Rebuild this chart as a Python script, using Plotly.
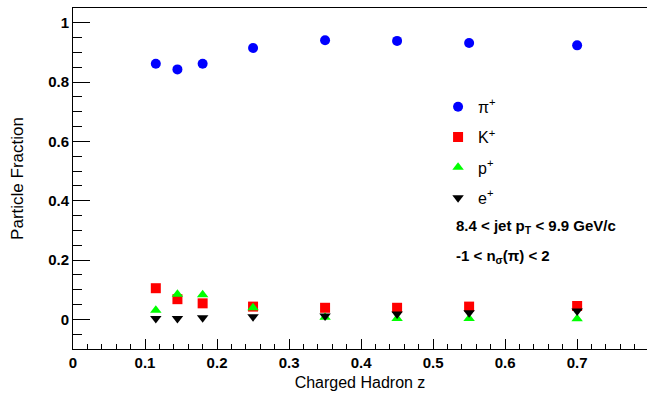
import plotly.graph_objects as go

z = [0.115, 0.145, 0.18, 0.25, 0.35, 0.45, 0.55, 0.70]
pion = [0.862, 0.843, 0.862, 0.915, 0.941, 0.939, 0.932, 0.924]
kaon = [0.105, 0.068, 0.054, 0.043, 0.039, 0.039, 0.043, 0.045]
proton = [0.031, 0.085, 0.083, 0.039, 0.007, 0.003, 0.003, 0.002]
electron = [0.003, 0.003, 0.005, 0.009, 0.011, 0.018, 0.022, 0.028]

series = [
    ("π<sup>+</sup>", pion, "circle", "#0000ff", 10),
    ("K<sup>+</sup>", kaon, "square", "#ff0000", 10),
    ("p<sup>+</sup>", proton, "triangle-up", "#00ff00", 10),
    ("e<sup>+</sup>", electron, "triangle-down", "#000000", 10),
]

FONT = "Liberation Sans, Arial, Helvetica, sans-serif"

fig = go.Figure()
for i, (name, vals, sym, col, sz) in enumerate(series):
    fig.add_trace(go.Scatter(
        x=z, y=vals, mode="markers", name=name, legendgroup=f"g{i}",
        marker=dict(symbol=sym, color=col, size=sz, line=dict(width=0)),
    ))

fig.update_layout(
    width=647, height=394,
    margin=dict(l=73, r=0, t=8, b=45),
    plot_bgcolor="white", paper_bgcolor="white",
    font=dict(family=FONT, color="black"),
    showlegend=True,
    legend=dict(x=0.636, y=0.76, xanchor="left", yanchor="top",
                font=dict(size=16, family=FONT), tracegroupgap=6.5,
                bgcolor="rgba(0,0,0,0)", borderwidth=0),
    xaxis=dict(
        range=[0, 0.797], dtick=0.1, tick0=0,
        showgrid=False, zeroline=False,
        showline=True, linecolor="black", linewidth=1, mirror=True,
        ticks="inside", ticklen=10, tickcolor="black",
        minor=dict(dtick=0.02, ticks="inside", ticklen=5, tickcolor="black", showgrid=False),
        tickfont=dict(size=15, weight="bold", family=FONT),
        title=dict(text="Charged Hadron z", font=dict(size=16, family=FONT), standoff=6),
    ),
    yaxis=dict(
        range=[-0.1, 1.05], dtick=0.2, tick0=0,
        showgrid=False, zeroline=False,
        showline=True, linecolor="black", linewidth=1, mirror=False,
        ticks="inside", ticklen=17, tickcolor="black",
        minor=dict(dtick=0.05, ticks="inside", ticklen=9, tickcolor="black", showgrid=False),
        tickfont=dict(size=15, weight="bold", family=FONT),
        title=dict(text="Particle Fraction", font=dict(size=17, family=FONT), standoff=20),
    ),
    annotations=[
        dict(xref="paper", yref="paper", x=(454 - 73) / 574, y=(349 - 226) / 341,
             xanchor="left", yanchor="middle", showarrow=False,
             text="<b>8.4 &lt; jet p<sub>T</sub> &lt; 9.9 GeV/c</b>",
             font=dict(size=15, family=FONT)),
        dict(xref="paper", yref="paper", x=(454 - 73) / 574, y=(349 - 256) / 341,
             xanchor="left", yanchor="middle", showarrow=False,
             text="<b>-1 &lt; n<sub>σ</sub>(π) &lt; 2</b>",
             font=dict(size=15, family=FONT)),
    ],
)

fig.write_html("out.html")
